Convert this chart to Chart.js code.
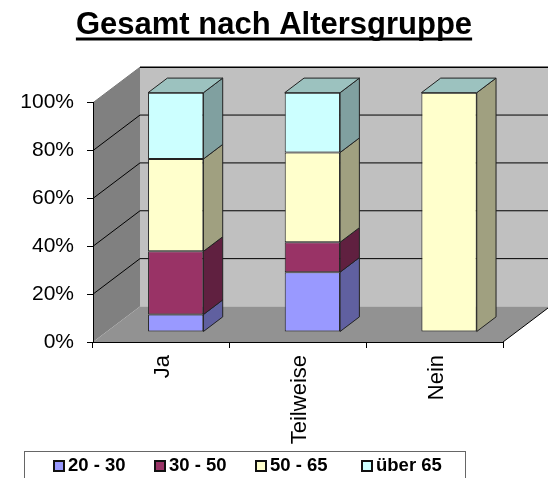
<!DOCTYPE html>
<html><head><meta charset="utf-8">
<style>html,body{margin:0;padding:0;background:#fff}canvas{display:block}</style>
<script src="https://cdn.jsdelivr.net/npm/chart.js@4"></script>
</head><body><canvas id="c" width="548" height="478"></canvas>
<script>
const categories = ["Ja", "Teilweise", "Nein"];
const tickValues = [0, 20, 40, 60, 80, 100];
const seriesNames = ["20 - 30", "30 - 50", "50 - 65", "über 65"];
const s2030 = [7.3, 25, 0];
const s3050 = [26.4, 12.5, 0];
const s5065 = [38.6, 37.5, 100];
const su65 = [27.7, 25, 0];

const seriesValues = [s2030, s3050, s5065, su65];
const frontColors = ["#9999FF", "#993366", "#FFFFCC", "#CCFFFF"];
const sideColors = ["#6060A0", "#602040", "#A0A080", "#80A0A0"];
const topColor = "#9CC2BF";
const FONT = '"Liberation Sans", Arial, sans-serif';
const WALL = {dx: 47, dy: -35.5};
const BAR_OFF = {dx: 14.4, dy: -10};
const BAR_D = {dx: 19.3, dy: -14.6};
const LEGEND_X = [53, 154, 255, 361];
const TITLE_SIZE = 31;

function poly(ctx, pts, fill, stroke) {
  ctx.beginPath();
  pts.forEach((p, i) => i ? ctx.lineTo(p[0], p[1]) : ctx.moveTo(p[0], p[1]));
  ctx.closePath();
  if (fill) { ctx.fillStyle = fill; ctx.fill(); }
  if (stroke) { ctx.strokeStyle = stroke; ctx.lineWidth = 1; ctx.stroke(); }
}
function line(ctx, x1, y1, x2, y2, w, col) {
  ctx.beginPath(); ctx.moveTo(x1, y1); ctx.lineTo(x2, y2);
  ctx.lineWidth = w; ctx.strokeStyle = col; ctx.stroke();
}

const threeD = {
  id: "threeD",
  afterLayout(chart) {
    // the tick labels sit in the page margin, so widen the scale's label clip
    chart.scales.y.left = 0;
  },
  beforeDraw(chart) {
    const {ctx, chartArea: a, scales: {y}} = chart;
    const d = WALL, b = a.bottom, t = a.top, l = a.left, r = a.right;
    ctx.save();
    poly(ctx, [[l + d.dx, t + d.dy], [r + d.dx, t + d.dy], [r + d.dx, b + d.dy], [l + d.dx, b + d.dy]], "#C0C0C0");
    poly(ctx, [[l, t], [l + d.dx, t + d.dy], [l + d.dx, b + d.dy], [l, b]], "#808080");
    poly(ctx, [[l, b], [r, b], [r + d.dx, b + d.dy], [l + d.dx, b + d.dy]], "#929292");
    tickValues.forEach(v => {
      const yy = y.getPixelForValue(v);
      if (v > 0) line(ctx, l, yy, l + d.dx, yy + d.dy, 1, v === 100 ? "#777" : "#000");
      if (v > 0) line(ctx, l + d.dx, yy + d.dy, r + d.dx, yy + d.dy, v === 100 ? 1.6 : 1, "#000");
    });
    line(ctx, r, b, r + d.dx, b + d.dy, 1, "#000");
    ctx.restore();
  },
  beforeDatasetsDraw(chart) {
    chart.ctx.save();
    chart.ctx.translate(BAR_OFF.dx, BAR_OFF.dy);
  },
  afterDatasetsDraw(chart) {
    const ctx = chart.ctx;
    const d = BAR_D;
    chart.data.datasets.forEach((ds, i) => {
      chart.getDatasetMeta(i).data.forEach(el => {
        const rx = el.x + el.width / 2, lx = el.x - el.width / 2;
        if (Math.abs(el.base - el.y) > 0.01)
          poly(ctx, [[rx, el.y], [rx + d.dx, el.y + d.dy], [rx + d.dx, el.base + d.dy], [rx, el.base]], sideColors[i], "#222");
        if (i === chart.data.datasets.length - 1)
          poly(ctx, [[lx, el.y], [rx, el.y], [rx + d.dx, el.y + d.dy], [lx + d.dx, el.y + d.dy]], topColor, "#222");
      });
    });
    ctx.restore();
  },
  afterDraw(chart) {
    const ctx = chart.ctx;
    ctx.save();
    // title underline
    ctx.font = "bold " + TITLE_SIZE + "px " + FONT;
    const w = ctx.measureText(chart.options.plugins.title.text).width;
    line(ctx, 274 - w / 2, 39, 274 + w / 2, 39, 3, "#000");
    // legend frame
    ctx.strokeStyle = "#666"; ctx.lineWidth = 1;
    ctx.strokeRect(24.5, 451.5, 441, 40);
    ctx.font = "bold 18.5px " + FONT;
    ctx.textBaseline = "middle"; ctx.textAlign = "left";
    chart.data.datasets.forEach((ds, i) => {
      const x = LEGEND_X[i];
      ctx.fillStyle = ds.backgroundColor; ctx.strokeStyle = "#111"; ctx.lineWidth = 2;
      ctx.fillRect(x + 1, 461, 10, 10); ctx.strokeRect(x + 1, 461, 10, 10);
      ctx.fillStyle = "#000";
      ctx.fillText(ds.label, x + 15, 466);
    });
    ctx.restore();
  }
};

new Chart(document.getElementById("c"), {
  type: "bar",
  data: {
    labels: categories,
    datasets: seriesNames.map((name, i) => ({
      label: name,
      data: seriesValues[i],
      backgroundColor: frontColors[i],
      borderColor: "#222",
      borderWidth: 1,
      borderSkipped: false,
      categoryPercentage: 1,
      barPercentage: 0.405,
      clip: false
    }))
  },
  plugins: [threeD],
  options: {
    responsive: false,
    animation: false,
    layout: {padding: {left: 45, right: 45, top: 0, bottom: 0}},
    plugins: {
      legend: {display: false},
      tooltip: {enabled: false},
      title: {
        display: true,
        text: "Gesamt nach Altersgruppe",
        color: "#000",
        font: {family: FONT, size: TITLE_SIZE, weight: "bold", lineHeight: 1.2},
        padding: {top: 7, bottom: 58.5}
      }
    },
    scales: {
      x: {
        stacked: true,
        afterFit(s) { s.height = 136; },
        border: {color: "#000", width: 1},
        grid: {drawOnChartArea: false, drawTicks: true, tickLength: 6, color: "#000"},
        ticks: {color: "#000", minRotation: 90, maxRotation: 90, padding: 7, labelOffset: 2, font: {family: FONT, size: 22}}
      },
      y: {
        stacked: true,
        min: 0,
        max: 100,
        afterFit(s) { s.width = 48; },
        border: {color: "#000", width: 1},
        grid: {drawOnChartArea: false, drawTicks: true, tickLength: 6, color: "#000"},
        ticks: {color: "#000", stepSize: 20, padding: 13, font: {family: FONT, size: 21}, callback: v => v + "%"}
      }
    }
  }
});
</script></body></html>
